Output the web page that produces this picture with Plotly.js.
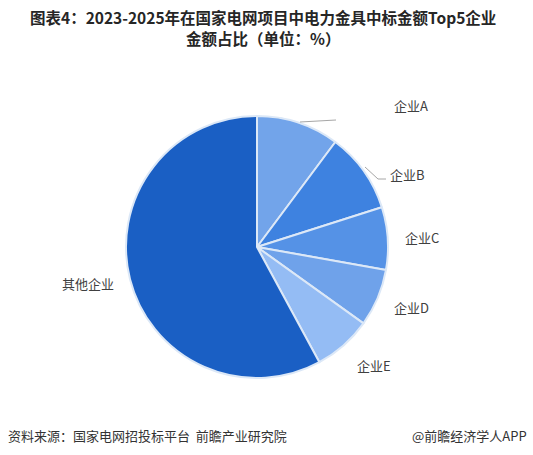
<!DOCTYPE html>
<html>
<head>
<meta charset="utf-8">
<script src="https://cdn.plot.ly/plotly-3.0.1.min.js"></script>
<style>html,body{margin:0;padding:0;background:#fff;}#chart{width:533px;height:455px;}</style>
</head>
<body>
<div id="chart"></div>
<script>
// Data
const categories = ["企业A", "企业B", "企业C", "企业D", "企业E", "其他企业"];
const shares = [10.2, 9.9, 7.7, 7.1, 7.2, 57.9];
const sliceColors = ["#72a4ea", "#3e82e0", "#5592e6", "#6fa2ea", "#94bcf4", "#1a5fc4"];
const titleLines = ["图表4：2023-2025年在国家电网项目中电力金具中标金额Top5企业", "金额占比（单位：%）"];
const sourceText = "资料来源：国家电网招投标平台  前瞻产业研究院";
const brandText = "@前瞻经济学人APP";

// Layout helpers (pixel -> paper)
const W = 533, H = 455;
const px = x => x / W;
const py = y => 1 - y / H;
const labelPix = [[411,105],[407,175],[422,237],[411,307],[374,365],[88,283]];
const titlePix = [[263,17],[263,38]];

const cx = 257, cy = 247, R = 131;
const font = "Noto Sans CJK SC, Microsoft YaHei, sans-serif";

const trace = {
  type: "pie",
  labels: categories,
  values: shares,
  sort: false,
  direction: "clockwise",
  rotation: 0,
  textinfo: "none",
  hoverinfo: "label+percent",
  marker: {colors: sliceColors, line: {color: "#dce8f7", width: 2}},
  domain: {x: [px(cx - R), px(cx + R)], y: [py(cy + R), py(cy - R)]},
  showlegend: false
};

const annotations = [];
titleLines.forEach((t, i) => {
  annotations.push({xref: "paper", yref: "paper", x: px(titlePix[i][0]), y: py(titlePix[i][1]), text: "<b>" + t + "</b>",
    showarrow: false, xanchor: "center", yanchor: "middle", borderpad: 0,
    font: {family: font, size: 15.5, color: "#262626"}});
});
categories.forEach((c, i) => {
  annotations.push({xref: "paper", yref: "paper", x: px(labelPix[i][0]), y: py(labelPix[i][1]), text: c,
    showarrow: false, xanchor: "center", yanchor: "middle", font: {family: font, size: 13, color: "#404040"}});
});
annotations.push({xref: "paper", yref: "paper", x: px(6), y: py(435), text: sourceText, showarrow: false,
  xanchor: "left", yanchor: "middle", font: {family: font, size: 13, color: "#333"}});
annotations.push({xref: "paper", yref: "paper", x: px(529), y: py(435), text: brandText, showarrow: false,
  xanchor: "right", yanchor: "middle", font: {family: font, size: 13, color: "#333"}});

const leader = {color: "#a6a6a6", width: 1};
const shapes = [
  {type: "line", xref: "paper", yref: "paper", x0: px(300), y0: py(122), x1: px(336), y1: py(120), line: leader},
  {type: "path", xref: "paper", yref: "paper",
    path: `M ${px(365)} ${py(167)} L ${px(378)} ${py(179)} L ${px(386)} ${py(179)}`, line: leader}
];

const layout = {
  width: W, height: H,
  margin: {l: 0, r: 0, t: 0, b: 0},
  paper_bgcolor: "#fff",
  annotations: annotations,
  shapes: shapes,
  showlegend: false
};

Plotly.newPlot("chart", [trace], layout, {displayModeBar: false, staticPlot: true});
</script>
</body>
</html>
